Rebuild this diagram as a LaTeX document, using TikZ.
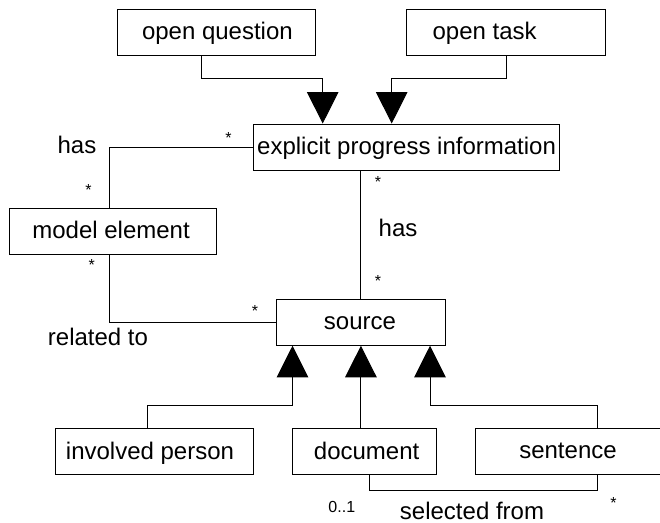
\documentclass[tikz,border=0pt]{standalone}
\usepackage{fontspec}
\setmainfont{Liberation Sans}
\usetikzlibrary{arrows.meta}
\begin{document}
\begin{tikzpicture}[x=1pt,y=-1pt,
  cls/.style={draw,line width=0.9pt,inner sep=0pt,minimum height=45.7pt},
  lbl/.style={font=\fontsize{24}{28}\selectfont,inner sep=0pt,anchor=base},
  mult/.style={font=\fontsize{16}{19}\selectfont,inner sep=0pt},
  conn/.style={line width=0.9pt},
  gen/.style={conn,-{Triangle[length=31.5pt,width=31.5pt]}}]
\useasboundingbox[fill=white] (0,0) rectangle (660,522);
% boxes
\node[cls,minimum width=198pt]   (oq)  at (216,32.2) {};
\node[cls,minimum width=198.6pt] (ot)  at (505.9,32.2) {};
\node[cls,minimum width=305.6pt,minimum height=46pt] (epi) at (406.2,147) {};
\node[cls,minimum width=206.7pt] (me)  at (112.6,231.2) {};
\node[cls,minimum width=168.8pt,minimum height=46pt] (src) at (360.9,322.3) {};
\node[cls,minimum width=198.2pt] (ip)  at (154.7,451.5) {};
\node[cls,minimum width=144.4pt] (doc) at (364.7,451.5) {};
\node[cls,minimum width=198pt]   (sen) at (574.3,451.3) {};
% box texts
\node[lbl] (toq)  at (217.4,39.7) {open question};
\node[lbl] (tot)  at (484.6,39.7) {open task};
\node[lbl] (tepi) at (406.6,154.5) {explicit progress information};
\node[lbl] (tme)  at (111.1,238.7) {model element};
\node[lbl] (tsrc) at (360,329.8) {source};
\node[lbl] (tip)  at (150,459) {involved person};
\node[lbl] (tdoc) at (366.6,459) {document};
\node[lbl] (tsen) at (568,458.8) {sentence};
% connectors
\draw[gen] ([xshift=-15pt]oq.south) -- ++(0,23) -| ([xshift=-83.5pt]epi.north);
\draw[gen] ([xshift=0.4pt]ot.south) -- ++(0,23) -| ([xshift=-14.5pt]epi.north);
\draw[conn] (epi.west) -| ([xshift=-3.2pt]me.north);
\draw[conn] (src.north |- epi.south) -- (src.north);
\draw[conn] ([xshift=-3.2pt]me.south) |- (src.west);
\draw[gen] ([xshift=-7.4pt]ip.north) -- ++(0,-22.7) -| ([xshift=-68.4pt]src.south);
\draw[gen] (doc.north -| src.south) -- (src.south);
\draw[gen] ([xshift=22.7pt]sen.north) -- ++(0,-22.5) -| ([xshift=69.1pt]src.south);
\draw[conn] ([xshift=4.3pt]doc.south) -- ++(0,16) -| ([xshift=22.7pt]sen.south);
% association labels
\node[lbl] (lhas1) at (77,153.5) {has};
\node[lbl] (lhas2) at (398,236.7) {has};
\node[lbl] (lrel)  at (98,345) {related to};
\node[lbl] (lsel)  at (472,519) {selected from};
% multiplicities
\node[mult] (m1) at (228.5,138) {*};
\node[mult] (m2) at (88.4,190) {*};
\node[mult] (m3) at (378,182) {*};
\node[mult] (m4) at (378,281) {*};
\node[mult] (m5) at (91.7,265) {*};
\node[mult] (m6) at (255,311) {*};
\node[mult] (m7) at (613.6,502.7) {*};
\node[mult] (m8) at (341.8,506.7) {0..1};
\end{tikzpicture}
\end{document}
